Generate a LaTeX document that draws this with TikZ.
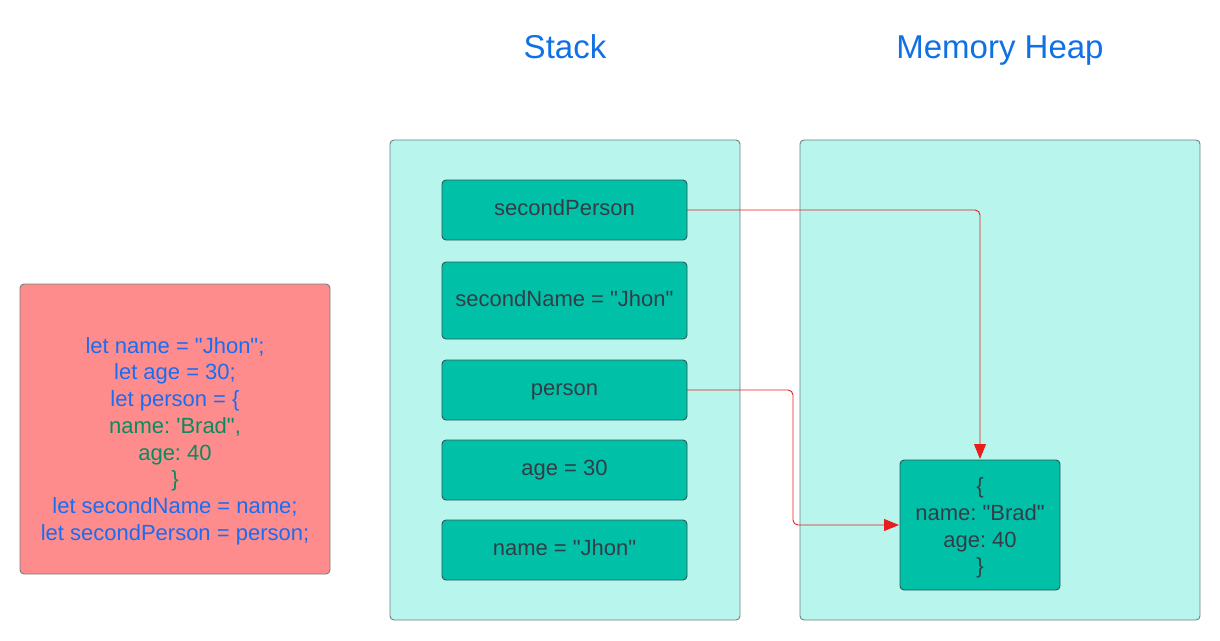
\documentclass[tikz,border=0pt]{standalone}
\usepackage{fontspec}
\setmainfont{Liberation Sans}[Ligatures=TeXOff]
\usetikzlibrary{arrows.meta}
\definecolor{cont}{HTML}{B8F5EC}
\definecolor{contline}{HTML}{6F7F80}
\definecolor{item}{HTML}{00C1A8}
\definecolor{itemline}{HTML}{2F5755}
\definecolor{txt}{HTML}{333D47}
\definecolor{ttl}{HTML}{1071E5}
\definecolor{codebg}{HTML}{FF8C8C}
\definecolor{codeblue}{HTML}{1A6CF0}
\definecolor{codegreen}{HTML}{0A8A5E}
\definecolor{arr}{HTML}{E81D1D}
\begin{document}
\frenchspacing
\begin{tikzpicture}[x=1pt,y=-1pt,
  container/.style={draw=contline,fill=cont,rounded corners=4pt,line width=0.9pt},
  itembox/.style={draw=itemline,fill=item,rounded corners=4pt,line width=0.9pt},
  itemtext/.style={text=txt,font=\fontsize{22}{26.7}\selectfont},
  stacktext/.style={itemtext,text height=15.8pt,text depth=4.6pt},
  titletext/.style={text=ttl,font=\fontsize{33}{38}\selectfont,anchor=base},
  ptr/.style={draw=arr,line width=0.9pt,rounded corners=5pt,
    -{Triangle[length=15pt,width=12pt]}}]
\useasboundingbox (0,0) rectangle (1220,640);
% titles
\node[titletext] (tstack) at (565,58) {Stack};
\node[titletext] (theap) at (1000,58) {Memory Heap};
% containers
\draw[container] (390,140) rectangle (740,620);
\draw[container] (800,140) rectangle (1200,620);
% code box
\draw[draw=contline,fill=codebg,rounded corners=4pt,line width=0.9pt] (20,284) rectangle (330,574);
\node[align=center,font=\fontsize{22}{26.7}\selectfont,text=codeblue] (code) at (175,441) {%
let name = "Jhon";\\
let age = 30;\\
let person = \{\\
\textcolor{codegreen}{name: 'Brad",}\\
\textcolor{codegreen}{age: 40}\\
\textcolor{codegreen}{\}}\\
let secondName = name;\\
let secondPerson = person;};
% stack items
\path[itembox] (442,180) rectangle (687,240);
\node[stacktext] (sp) at (564.5,210) {secondPerson};
\coordinate (spr) at (687,210);
\path[itembox] (442,262) rectangle (687,339);
\node[stacktext] (sn) at (564.5,301) {secondName = "Jhon"};
\path[itembox] (442,360) rectangle (687,420);
\node[stacktext] (pe) at (564.5,390) {person};
\coordinate (per) at (687,390);
\path[itembox] (442,440) rectangle (687,500);
\node[stacktext] (ag) at (564.5,470) {age = 30};
\path[itembox] (442,520) rectangle (687,580);
\node[stacktext] (nm) at (564.5,550) {name = "Jhon"};
% heap object
\path[itembox] (900,460) rectangle (1060,590);
\node[align=center,itemtext] (obj) at (980,528) {\{\\name: "Brad"\\age: 40\\\}};
\coordinate (objtop) at (980,459);
\coordinate (objleft) at (899,525);
% pointers
\draw[ptr] (spr) -- (980,210) -- (objtop);
\draw[ptr] (per) -- (793,390) -- (793,525) -- (objleft);
\end{tikzpicture}
\end{document}
